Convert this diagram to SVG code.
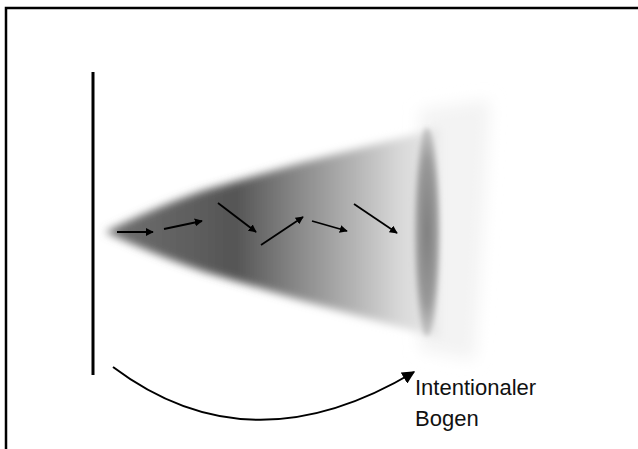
<svg xmlns="http://www.w3.org/2000/svg" width="638" height="449" viewBox="0 0 638 449">
<style>
.frame{stroke:#000;stroke-width:2.5;fill:none}
.ar{stroke:#000;stroke-width:1.8;fill:none;marker-end:url(#ah)}
.lbl{font-family:"Liberation Sans",Arial,sans-serif;font-size:22px;fill:#111}
</style>
<defs>
<marker id="ah" viewBox="0 0 10 10" refX="9" refY="5" markerWidth="8" markerHeight="8" orient="auto" markerUnits="userSpaceOnUse">
<path d="M0,0 L10,5 L0,10 z" fill="#000"/>
</marker>
<marker id="ah2" viewBox="0 0 10 10" refX="9" refY="5" markerWidth="13" markerHeight="13" orient="auto" markerUnits="userSpaceOnUse">
<path d="M0,0 L10,5 L0,10 z" fill="#000"/>
</marker>
<linearGradient id="cg" x1="105" y1="0" x2="440" y2="0" gradientUnits="userSpaceOnUse">
<stop offset="0" stop-color="#707070"/>
<stop offset="0.39" stop-color="#555"/>
<stop offset="0.58" stop-color="#8a8a8a"/>
<stop offset="0.73" stop-color="#b0b0b0"/>
<stop offset="0.88" stop-color="#d8d8d8"/>
<stop offset="1" stop-color="#ebebeb"/>
</linearGradient>
<radialGradient id="eg" cx="0.5" cy="0.5" r="0.5">
<stop offset="0" stop-color="#7e7e7e"/>
<stop offset="0.7" stop-color="#999"/>
<stop offset="1" stop-color="#c8c8c8"/>
</radialGradient>
<filter id="blur" x="-0.2" y="-0.2" width="1.4" height="1.4"><feGaussianBlur stdDeviation="4.5"/></filter>
<filter id="blur2" x="-0.5" y="-0.2" width="2" height="1.4"><feGaussianBlur stdDeviation="2.5"/></filter>
<filter id="blur3" x="-0.3" y="-0.3" width="1.6" height="1.6"><feGaussianBlur stdDeviation="8"/></filter>
</defs>
<rect width="638" height="449" fill="#fff"/>
<path class="frame" d="M6,450 V8 H640"/>
<g id="wall"><line x1="93" y1="72" x2="93" y2="375" stroke="#000" stroke-width="3"/></g>
<g id="cone">
<polygon points="420,110 490,100 475,360 420,350" fill="#f3f3f3" filter="url(#blur3)"/>
<path d="M105,232 Q160,205 205,190 L300,163 L440,128 L440,338 L300,300 L205,272 Q160,257 105,232 Z" fill="url(#cg)" filter="url(#blur)"/>
<ellipse cx="427" cy="232" rx="13" ry="104" fill="url(#eg)" filter="url(#blur2)"/>
</g>
<g id="connectors">
<line class="ar" x1="117" y1="232" x2="153" y2="232"/>
<line class="ar" x1="164" y1="229" x2="202" y2="221"/>
<line class="ar" x1="218" y1="203" x2="256" y2="232"/>
<line class="ar" x1="261" y1="245" x2="303" y2="217"/>
<line class="ar" x1="312" y1="221" x2="347" y2="231"/>
<line class="ar" x1="354" y1="204" x2="397" y2="233"/>
<path d="M113,367 Q250,470 414,372" stroke="#000" stroke-width="2" fill="none" marker-end="url(#ah2)"/>
</g>
<g id="label">
<text class="lbl" x="415" y="395">Intentionaler</text>
<text class="lbl" x="415" y="426">Bogen</text>
</g>
</svg>
